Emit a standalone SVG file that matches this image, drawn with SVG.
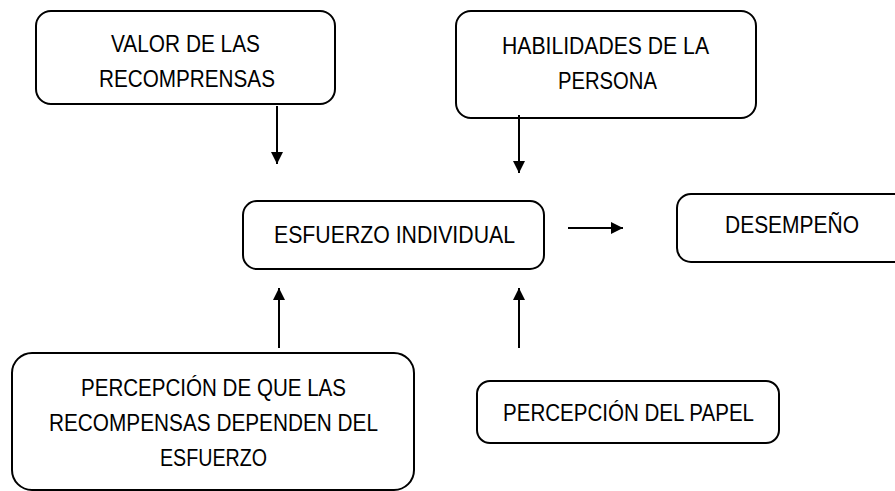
<svg xmlns="http://www.w3.org/2000/svg" width="895" height="491" viewBox="0 0 895 491">
<defs>
<style>
.box{fill:#fff;stroke:#000;stroke-width:2}
.t{font-family:"Liberation Sans",Arial,sans-serif;font-size:24px;fill:#000;text-anchor:start}
.c{stroke:#000;stroke-width:2;fill:none}
</style>
<marker id="ah" markerWidth="12" markerHeight="14" refX="12" refY="6" orient="auto" markerUnits="userSpaceOnUse" viewBox="0 0 12 12">
<path d="M0,0 L12,6 L0,12 Z" fill="#000"/>
</marker>
</defs>
<rect width="895" height="491" fill="#fff"/>
<g id="valor">
<rect class="box" x="36" y="11" width="299" height="93" rx="15"/>
<text class="t" x="111" y="52" textLength="149" lengthAdjust="spacingAndGlyphs">VALOR DE LAS</text>
<text class="t" x="99" y="87" textLength="176" lengthAdjust="spacingAndGlyphs">RECOMPRENSAS</text>
</g>
<g id="habilidades">
<rect class="box" x="456" y="11" width="300" height="107" rx="15"/>
<text class="t" x="502" y="54" textLength="207" lengthAdjust="spacingAndGlyphs">HABILIDADES DE LA</text>
<text class="t" x="558" y="89" textLength="99" lengthAdjust="spacingAndGlyphs">PERSONA</text>
</g>
<g id="esfuerzo">
<rect class="box" x="243" y="201" width="301" height="68" rx="14"/>
<text class="t" x="274" y="243" textLength="241" lengthAdjust="spacingAndGlyphs">ESFUERZO INDIVIDUAL</text>
</g>
<g id="desempeno">
<rect class="box" x="677" y="194" width="240" height="68" rx="14"/>
<text class="t" x="725" y="233" textLength="134" lengthAdjust="spacingAndGlyphs">DESEMPEÑO</text>
</g>
<g id="percepcion-recompensas">
<rect class="box" x="12" y="353" width="402" height="137" rx="20"/>
<text class="t" x="81" y="396" textLength="265" lengthAdjust="spacingAndGlyphs">PERCEPCIÓN DE QUE LAS</text>
<text class="t" x="49" y="431" textLength="329" lengthAdjust="spacingAndGlyphs">RECOMPENSAS DEPENDEN DEL</text>
<text class="t" x="160" y="466" textLength="107" lengthAdjust="spacingAndGlyphs">ESFUERZO</text>
</g>
<g id="percepcion-papel">
<rect class="box" x="477" y="381" width="302" height="62" rx="13"/>
<text class="t" x="503" y="421" textLength="251" lengthAdjust="spacingAndGlyphs">PERCEPCIÓN DEL PAPEL</text>
</g>
<g id="connectors">
<line class="c" x1="277" y1="106" x2="277" y2="164" stroke-width="1.5" marker-end="url(#ah)"/>
<line class="c" x1="519" y1="115" x2="519" y2="173" marker-end="url(#ah)"/>
<line class="c" x1="568" y1="228" x2="623" y2="228" marker-end="url(#ah)"/>
<line class="c" x1="279" y1="348" x2="279" y2="288" marker-end="url(#ah)"/>
<line class="c" x1="519" y1="348" x2="519" y2="288" marker-end="url(#ah)"/>
</g>
</svg>
